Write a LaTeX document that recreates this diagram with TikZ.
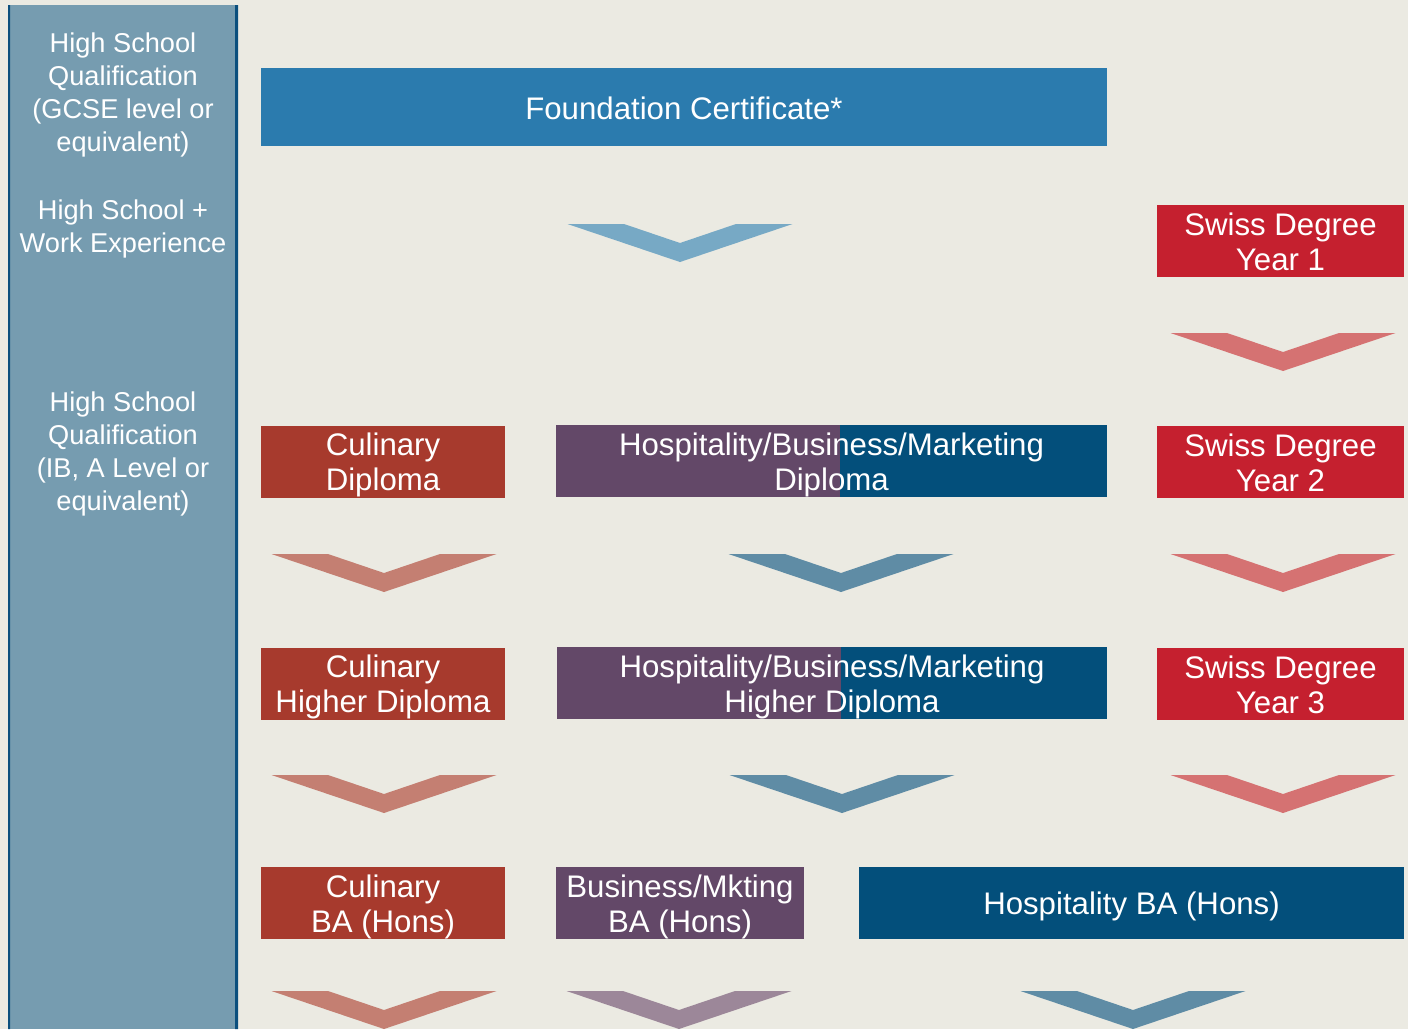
\documentclass[tikz,border=0pt]{standalone}
\usepackage{fontspec}
\setmainfont{Liberation Sans}
\definecolor{bgcol}{RGB}{235,234,226}
\definecolor{sidecol}{RGB}{118,156,176}
\definecolor{sideline}{RGB}{11,79,125}
\definecolor{foundcol}{RGB}{43,123,174}
\definecolor{foundchev}{RGB}{119,169,197}
\definecolor{culcol}{RGB}{167,58,45}
\definecolor{culchev}{RGB}{196,127,114}
\definecolor{purpcol}{RGB}{99,72,104}
\definecolor{purpchev}{RGB}{156,135,153}
\definecolor{hospcol}{RGB}{3,79,123}
\definecolor{hospchev}{RGB}{95,140,165}
\definecolor{swisscol}{RGB}{197,32,47}
\definecolor{swisschev}{RGB}{213,114,114}
% chevron: centre x, top y, colour
\newcommand\chev[3]{\fill[#3] (#1-112.5,#2) -- (#1-56,#2) -- (#1,#2+19) -- (#1+56,#2) -- (#1+112.5,#2) -- (#1,#2+38) -- cycle;}
\begin{document}
\begin{tikzpicture}[x=0.5pt,y=-0.5pt,font=\fontsize{15.6}{17.5}\selectfont,
  box/.style={text=white,inner sep=0pt,align=center,minimum height=36pt,
    execute at begin node=\rule{0pt}{15pt},execute at end node=\rule[-3pt]{0pt}{3pt}},
  twoline/.style={box,execute at begin node=\rule{0pt}{32.5pt},execute at end node=\rule[-3pt]{0pt}{3pt}},
  side/.style={text=white,align=center,font=\fontsize{13.6}{16.5}\selectfont},
  twotone/.style={fill=purpcol,path picture={\fill[hospcol] ([xshift=4.25pt]path picture bounding box.north) rectangle (path picture bounding box.south east);}}]
  \useasboundingbox (0,0) rectangle (1408,1029);
  \fill[bgcol] (0,0) rectangle (1408,1029);
  \clip (0,0) rectangle (1408,1029);
  % side panel
  \fill[sidecol] (8,5) rectangle (238,1029);
  \fill[sideline] (8,5) rectangle (10,1029) (235,5) rectangle (238,1029);
  \node[side] (gcse) at (123,95) {High School\\Qualification\\(GCSE level or\\equivalent)};
  \node[side] (work) at (123,229) {High School +\\Work Experience};
  \node[side] (alevel) at (123,454) {High School\\Qualification\\(IB, A Level or\\equivalent)};
  % boxes
  \node[box,fill=foundcol,minimum width=423pt,minimum height=39pt] (found) at (684,107) {Foundation Certificate*};
  \node[twoline,fill=swisscol,minimum width=123.5pt] (swiss1) at (1280.5,241) {Swiss Degree\\Year 1};
  \node[twoline,fill=culcol,minimum width=122pt] (cul1) at (383,461.5) {Culinary\\Diploma};
  \node[twoline,twotone,minimum width=275.5pt] (hbm1) at (831.5,461) {Hospitality/Business/Marketing\\Diploma};
  \node[twoline,fill=swisscol,minimum width=123.5pt] (swiss2) at (1280.5,461.5) {Swiss Degree\\Year 2};
  \node[twoline,fill=culcol,minimum width=122pt] (cul2) at (383,683.5) {Culinary\\Higher Diploma};
  \node[twoline,twotone,minimum width=275pt] (hbm2) at (832,683) {Hospitality/Business/Marketing\\Higher Diploma};
  \node[twoline,fill=swisscol,minimum width=123.5pt] (swiss3) at (1280.5,683.5) {Swiss Degree\\Year 3};
  \node[twoline,fill=culcol,minimum width=122pt] (cul3) at (383,903) {Culinary\\BA (Hons)};
  \node[twoline,fill=purpcol,minimum width=124pt] (bm3) at (680,903) {Business/Mkting\\BA (Hons)};
  \node[box,fill=hospcol,minimum width=272.5pt] (hosp3) at (1131.5,903) {Hospitality BA (Hons)};
  % chevrons
  \chev{680}{224}{foundchev}
  \chev{1283}{333}{swisschev}
  \chev{384}{554}{culchev}
  \chev{841}{554}{hospchev}
  \chev{1283}{554}{swisschev}
  \chev{384}{775}{culchev}
  \chev{842}{775}{hospchev}
  \chev{1283}{775}{swisschev}
  \chev{384}{991}{culchev}
  \chev{679}{991}{purpchev}
  \chev{1133}{991}{hospchev}
\end{tikzpicture}
\end{document}
